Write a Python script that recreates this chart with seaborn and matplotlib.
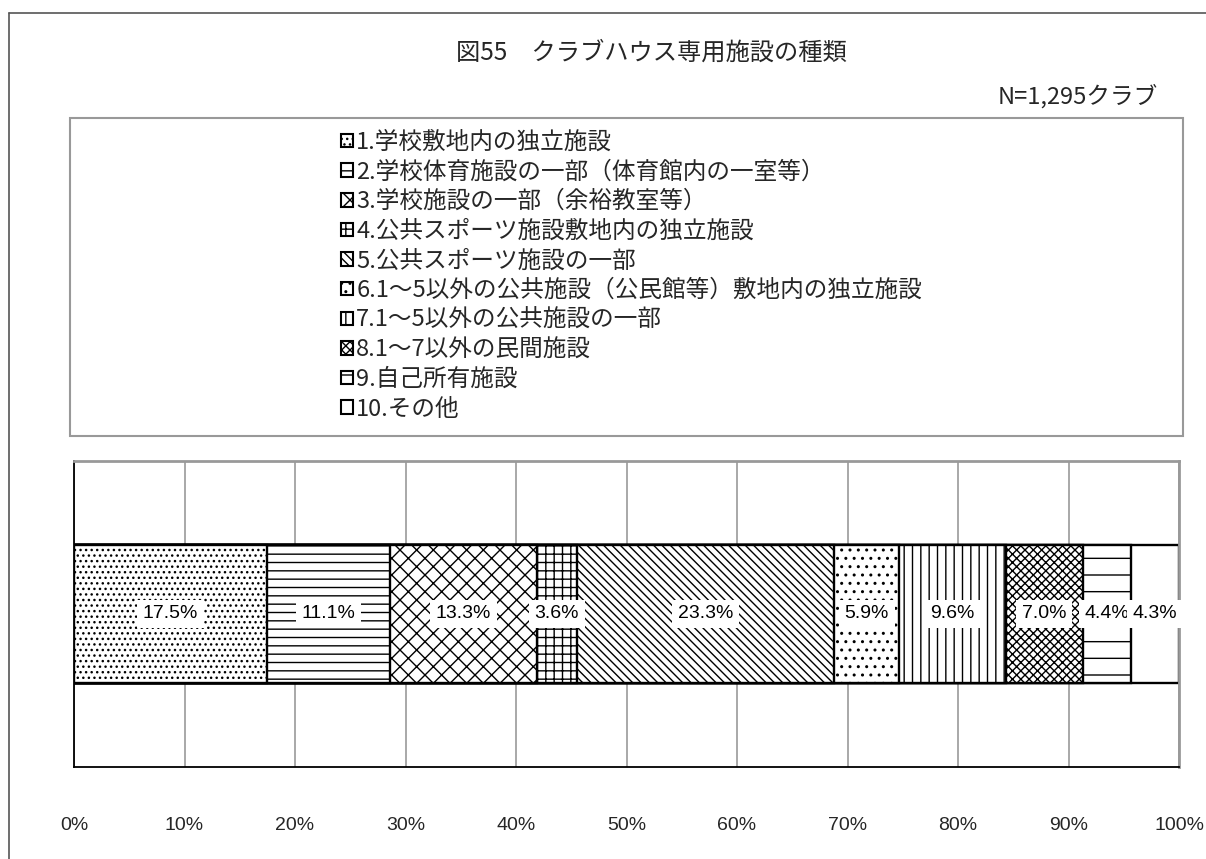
import matplotlib
matplotlib.use("Agg")
import matplotlib.pyplot as plt
import seaborn as sns
import pandas as pd
from matplotlib import font_manager
from matplotlib.patches import Rectangle
from matplotlib.lines import Line2D

# ---------------- data ----------------
categories = [
    "1.学校敷地内の独立施設",
    "2.学校体育施設の一部（体育館内の一室等）",
    "3.学校施設の一部（余裕教室等）",
    "4.公共スポーツ施設敷地内の独立施設",
    "5.公共スポーツ施設の一部",
    "6.1～5以外の公共施設（公民館等）敷地内の独立施設",
    "7.1～5以外の公共施設の一部",
    "8.1～7以外の民間施設",
    "9.自己所有施設",
    "10.その他",
]
values = [17.5, 11.1, 13.3, 3.6, 23.3, 5.9, 9.6, 7.0, 4.4, 4.3]
value_labels = ["17.5%", "11.1%", "13.3%", "3.6%", "23.3%", "5.9%", "9.6%", "7.0%", "4.4%", "4.3%"]
xticks = [0, 10, 20, 30, 40, 50, 60, 70, 80, 90, 100]
xtick_labels = ["0%", "10%", "20%", "30%", "40%", "50%", "60%", "70%", "80%", "90%", "100%"]
title_text = "図55　クラブハウス専用施設の種類"
note_text = "N=1,295クラブ"

# ---------------- style ----------------
hatches = ["...", "--", "xx", "++", "\\\\\\\\", "..", "||", "xxxx", "-", ""]

sns.set_style("white")
plt.rcParams["font.family"] = ["Noto Sans CJK JP", "DejaVu Sans"]
plt.rcParams["hatch.color"] = "black"
plt.rcParams["hatch.linewidth"] = 1.0

names = {f.name for f in font_manager.fontManager.ttflist}
if "Liberation Sans Narrow" in names:
    num_family = ["Liberation Sans Narrow"]
    num_size = 15.5
else:
    num_family = ["Liberation Sans"]
    num_size = 14

W, H = 1206, 859
fig = plt.figure(figsize=(W / 100, H / 100), dpi=100)
fig.patch.set_facecolor("white")

ax = fig.add_axes([74 / W, 1 - 767 / H, 1105 / W, 306 / H])

df = pd.DataFrame({"cat": categories, "value": values})
df["end"] = df["value"].cumsum()
df["start"] = df["end"] - df["value"]
df["mid"] = df["start"] + df["value"] / 2
df["row"] = ""

handles = [None] * len(df)
for i in reversed(range(len(df))):
    sub = df.iloc[[i]]
    sns.barplot(data=sub, x="end", y="row", orient="h", ax=ax, color="white",
                edgecolor="black", linewidth=1.7, width=0.45,
                hatch=hatches[i], saturation=1)
    p = ax.patches[-1]
    p.set_facecolor("white")
    handles[i] = p

for i, row in df.iterrows():
    ax.text(row["mid"], 0, value_labels[i], ha="center", va="center",
            fontsize=num_size, family=num_family, color="black", zorder=10,
            bbox=dict(boxstyle="square,pad=0.3", facecolor="white", edgecolor="none"))

ax.set_xlim(0, 100)
ax.set_ylim(0.5, -0.5)
ax.set_xticks(xticks)
ax.set_xticklabels(xtick_labels, family=num_family, fontsize=num_size)
ax.set_yticks([])
ax.set_xlabel("")
ax.set_ylabel("")
ax.tick_params(axis="x", length=0, pad=36)
ax.xaxis.grid(True, color="#999999", linewidth=1.2)
ax.yaxis.grid(False)
ax.set_axisbelow(True)
for s in ["left", "bottom"]:
    ax.spines[s].set_color("black")
    ax.spines[s].set_linewidth(1.3)
for s in ["top", "right"]:
    ax.spines[s].set_color("#999999")
    ax.spines[s].set_linewidth(2)

# legend box
fig.add_artist(Rectangle((70 / W, 1 - 436 / H), (1183 - 70) / W, (436 - 118) / H,
                         transform=fig.transFigure, facecolor="none",
                         edgecolor="#999999", linewidth=1.5))
leg = fig.legend(handles, categories, loc="upper left",
                 bbox_to_anchor=(341 / W, 1 - 131 / H), frameon=False,
                 fontsize=17, handlelength=0.5, handleheight=0.5,
                 handletextpad=0.15, labelspacing=0.28, borderpad=0,
                 borderaxespad=0)
for h in leg.legend_handles:
    h.set_linewidth(1.5)

fig.text(651 / W, 1 - 53 / H, title_text, ha="center", va="center", fontsize=17.5)
fig.text(1158 / W, 1 - 96 / H, note_text, ha="right", va="center", fontsize=17)

# outer border
fig.add_artist(Line2D([9 / W, 9 / W], [0, 1 - 13 / H], transform=fig.transFigure,
                      color="#555555", linewidth=1.2))
fig.add_artist(Line2D([9 / W, 1], [1 - 13 / H, 1 - 13 / H], transform=fig.transFigure,
                      color="#555555", linewidth=1.2))

fig.savefig("out.png", dpi=100, facecolor="white")
